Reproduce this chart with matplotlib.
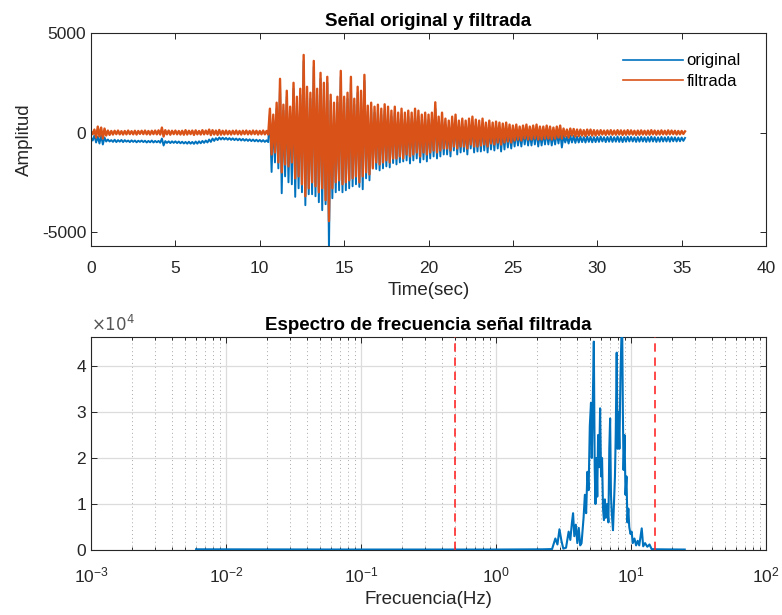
import numpy as np
import matplotlib
matplotlib.use('Agg')
import matplotlib.pyplot as plt
from matplotlib.ticker import FuncFormatter, LogLocator, NullFormatter

plt.rcParams['font.family'] = ['Liberation Sans', 'DejaVu Sans']
plt.rcParams['axes.unicode_minus'] = False

dt = 0.1

# filtered trace, one row per second
filtrada = [
    50, -80, 150, -250, 300, -200, 250, -300, 200, -150,
    100, -120, 80, -100, 90, -80, 100, -90, 70, -100,
    80, -90, 100, -80, 70, -90, 90, -100, 80, -70,
    90, -80, 100, -90, 80, -100, 90, -80, 100, -90,
    110, -100, 250, -200, 120, -90, 100, -110, 90, -80,
    100, -90, 80, -100, 90, -110, 120, -100, 90, -80,
    100, -120, 110, -90, 80, -100, 120, -90, 100, -80,
    150, -130, 120, -100, 100, -120, 130, -110, 90, -100,
    100, -90, 80, -100, 90, -80, 100, -90, 80, -100,
    90, -80, 100, -90, 80, -90, 100, -80, 90, -100,
    80, -90, 100, -90, 80, -100, 1200, -1100, 900, -1000,
    1500, -1500, 2700, -2000, 1400, -1600, 2100, -1700, 1300, -1500,
    2500, -2300, 1800, -2200, 2200, -2600, 3900, -3200, 2300, -2800,
    2000, -2500, 3600, -2700, 2200, -3000, 3000, -2800, 2500, -3400,
    2800, -4450, 1900, -2800, 1500, -2500, 1800, -2400, 3100, -2600,
    1800, -2500, 2000, -2400, 2800, -2300, 1700, -2200, 2300, -2500,
    2100, -2200, 2900, -2000, 1350, -2100, 1500, -1800, 1300, -1500,
    1400, -1600, 1200, -1500, 1420, -1400, 1300, -1500, 1100, -1300,
    1300, -1300, 1000, -1200, 1200, -1300, 1000, -1100, 1100, -1200,
    1000, -1100, 1200, -1000, 1100, -1200, 900, -1000, 1000, -1100,
    900, -1000, 1000, -900, 1520, -1000, 800, -900, 1000, -800,
    700, -800, 600, -900, 800, -700, 900, -800, 600, -700,
    700, -700, 600, -800, 700, -600, 800, -700, 650, -700,
    600, -650, 700, -600, 500, -700, 600, -550, 500, -600,
    550, -500, 500, -600, 450, -500, 500, -450, 400, -500,
    350, -400, 400, -350, 300, -400, 350, -300, 400, -350,
    300, -350, 350, -300, 400, -350, 300, -350, 300, -300,
    350, -300, 300, -350, 250, -300, 300, -250, 350, -300,
    200, -200, 150, -250, 200, -150, 180, -200, 150, -180,
    150, -150, 120, -180, 150, -130, 150, -150, 120, -150,
    110, -120, 120, -100, 100, -120, 110, -100, 120, -110,
    100, -110, 120, -100, 110, -120, 100, -110, 120, -100,
    110, -100, 90, -120, 100, -110, 110, -100, 90, -110,
    100, -110, 120, -90, 100, -110, 90, -100, 110, -90,
    90, -100, 110, -90, 100, -80, 90, -100, 80, -90,
    80, -70, 60,
]

# original trace
original = [
    -250, -400, -150, -500, -200, -550, -150, -600, -250, -450,
    -350, -450, -380, -470, -360, -480, -380, -460, -370, -480,
    -380, -460, -400, -480, -390, -470, -400, -490, -410, -470,
    -400, -480, -410, -500, -420, -490, -400, -500, -420, -490,
    -420, -510, -300, -650, -430, -520, -440, -530, -440, -520,
    -440, -530, -450, -540, -460, -550, -470, -560, -460, -560,
    -470, -570, -450, -560, -440, -540, -420, -520, -400, -500,
    -350, -470, -300, -420, -280, -380, -250, -350, -260, -350,
    -270, -360, -280, -370, -290, -380, -300, -390, -310, -400,
    -320, -410, -330, -420, -340, -430, -350, -440, -360, -450,
    -370, -460, -380, -470, -390, -480, 900, -1980, 600, -1500,
    1200, -1800, 2400, -3050, 1100, -2200, 1800, -2500, 1000, -2600,
    2200, -3230, 1500, -2800, 1900, -3000, 3600, -3650, 2000, -3100,
    1700, -3100, 3300, -3200, 1900, -3500, 2700, -3900, 2200, -3600,
    2500, -5900, 1600, -3300, 1200, -3000, 1500, -2900, 2800, -3000,
    1500, -2900, 1700, -2800, 2500, -2700, 1400, -2600, 2000, -2730,
    1800, -2850, 2600, -2300, 1050, -2400, 1200, -1730, 1000, -1830,
    1100, -1900, 900, -1800, 1100, -1700, 1000, -1750, 800, -1530,
    1000, -1600, 700, -1500, 900, -1450, 700, -1400, 800, -1550,
    700, -1400, 900, -1300, 800, -1500, 600, -1350, 700, -1450,
    600, -1300, 700, -1200, 1200, -1300, 500, -1200, 700, -1100,
    400, -1100, 300, -1200, 500, -900, 600, -1100, 300, -1000,
    400, -950, 300, -1100, 400, -800, 500, -1000, 350, -950,
    300, -950, 400, -900, 200, -1000, 300, -850, 200, -900,
    250, -800, 200, -950, 150, -850, 200, -750, 100, -800,
    50, -700, 100, -650, 0, -700, 50, -600, 100, -650,
    0, -650, 50, -600, 100, -700, 0, -650, 0, -600,
    50, -600, 0, -650, -50, -600, 0, -550, 50, -750,
    -150, -500, -200, -550, -150, -500, -170, -520, -200, -500,
    -200, -480, -230, -500, -200, -470, -210, -490, -230, -480,
    -220, -470, -200, -450, -230, -480, -220, -460, -200, -470,
    -230, -460, -200, -470, -220, -480, -230, -460, -210, -450,
    -220, -450, -240, -470, -230, -460, -220, -450, -240, -470,
    -230, -460, -210, -450, -230, -470, -240, -460, -220, -450,
    -240, -450, -220, -460, -230, -440, -240, -450, -250, -440,
    -250, -420, -270,
]

# amplitude spectrum of the filtered trace
freq = [0.006, 0.1, 1.0, 2.2, 2.6,
        2.75, 2.85, 2.95, 3.05, 3.15, 3.3, 3.45, 3.55, 3.65, 3.72,
        3.8, 3.9, 4.0, 4.1, 4.2, 4.3, 4.45, 4.55, 4.65, 4.75,
        4.85, 4.95, 5.05, 5.12, 5.2, 5.3, 5.38, 5.45, 5.55, 5.62,
        5.7, 5.8, 5.9, 6.0, 6.1, 6.2, 6.3, 6.4, 6.5, 6.65,
        6.8, 6.9, 7.0, 7.1, 7.2, 7.35, 7.45, 7.6, 7.7, 7.83,
        7.95, 8.05, 8.2, 8.35, 8.5, 8.6, 8.7, 8.8, 8.95, 9.1,
        9.25, 9.4, 9.55, 9.7, 9.9, 10.1, 10.3, 10.6, 10.9, 11.2,
        11.5, 12.0, 12.3, 12.7, 13.2, 13.7, 14.2, 15.5, 25.0]
espectro = [150, 100, 100, 150, 200,
            2500, 1200, 4500, 2000, 300, 500, 4000, 2200, 6000, 8000,
            3000, 5500, 1500, 4800, 1000, 1500, 7000, 12000, 8000, 17000,
            13000, 27000, 32000, 20000, 31000, 45300, 18000, 10000, 20000, 11600,
            25000, 18000, 30800, 16000, 20000, 9000, 6500, 11000, 7000, 10000,
            6000, 22000, 28600, 12000, 8000, 4300, 9000, 16000, 25000, 42900,
            22000, 30000, 22000, 38000, 47000, 48000, 30000, 17400, 25000, 12000,
            16000, 6000, 9000, 5000, 3500, 4000, 1500, 2500, 1000, 2000,
            1000, 4700, 800, 1500, 700, 1200, 200, 150, 100]

# band-pass corners (Hz)
corte = [0.5, 15]

azul = '#0072BD'
naranja = '#D95319'
gris = '#262626'

fig = plt.figure(figsize=(7.82, 6.15), dpi=100)
ax1 = fig.add_axes([0.1164, 0.6, 0.8632, 0.3463])
ax2 = fig.add_axes([0.1164, 0.1057, 0.8632, 0.3463])

t_orig = np.arange(len(original)) * dt
t_filt = np.arange(len(filtrada)) * dt
ax1.plot(t_orig, original, color=azul, lw=1.4, label='original')
ax1.plot(t_filt, filtrada, color=naranja, lw=1.7, label='filtrada')
ax1.set_xlim(0, 40)
ax1.set_ylim(-5700, 5000)
ax1.set_xticks(np.arange(0, 41, 5))
ax1.set_yticks([-5000, 0, 5000])
ax1.set_title('Señal original y filtrada', fontsize=13.5, fontweight='bold',
              color='black', pad=5)
ax1.set_xlabel('Time(sec)', fontsize=13.5, color=gris, labelpad=4)
ax1.set_ylabel('Amplitud', fontsize=13.5, color=gris, labelpad=6)
leg = ax1.legend(loc='upper right', frameon=False, handlelength=3.6,
                 handletextpad=0.2, fontsize=12, bbox_to_anchor=(0.985, 0.975),
                 labelspacing=0.35)
for ln in leg.get_lines():
    ln.set_linewidth(1.2)

ax2.plot(freq, espectro, color=azul, lw=1.5, zorder=3)
for fc in corte:
    ax2.axvline(fc, color='#ff2a2a', ls=(0, (5, 3.5)), lw=1.2, zorder=4)
ax2.set_xscale('log')
ax2.set_xlim(1e-3, 1e2)
ax2.set_ylim(0, 46300)
ax2.set_yticks([0, 10000, 20000, 30000, 40000])
ax2.yaxis.set_major_formatter(FuncFormatter(lambda v, p: '%d' % round(v / 1e4)))
ax2.xaxis.set_major_locator(LogLocator(base=10, numticks=10))
ax2.xaxis.set_minor_locator(LogLocator(base=10, subs=np.arange(2, 10), numticks=20))
ax2.xaxis.set_minor_formatter(NullFormatter())
ax2.grid(True, which='major', color='#dcdcdc', lw=0.9, ls='-')
ax2.grid(True, which='minor', axis='x', color='#a8a8a8', lw=0.7, ls=(0, (1, 3)))
ax2.set_axisbelow(True)
ax2.set_title('Espectro de frecuencia señal filtrada', fontsize=13.5,
              fontweight='bold', color='black', pad=5)
ax2.set_xlabel('Frecuencia(Hz)', fontsize=13.5, color=gris, labelpad=4)
ax2.text(0.0, 1.012, r'$\times10^{4}$', transform=ax2.transAxes,
         fontsize=12, color='#555555', ha='left', va='bottom')

for ax in (ax1, ax2):
    ax.tick_params(which='both', direction='in', top=True, right=True,
                   labelsize=12.5, colors=gris, length=4, width=0.7)
    ax.tick_params(which='minor', length=2.5)
    ax.tick_params(axis='x', which='major', pad=11)
    for s in ax.spines.values():
        s.set_color(gris)
        s.set_linewidth(0.8)

fig.savefig('out.png', dpi=100)
